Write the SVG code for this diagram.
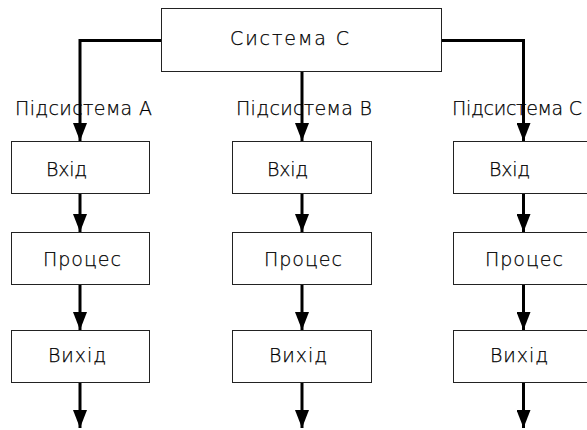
<svg xmlns="http://www.w3.org/2000/svg" width="587" height="430" viewBox="0 0 587 430">
  <style>
    .box { fill: #ffffff; stroke: #222222; stroke-width: 1; }
    .lbl { font-family: "DejaVu Sans", "Liberation Sans", sans-serif; font-weight: 200; font-size: 19px; fill: #000000; stroke: #000000; stroke-width: 0.25; }
    .wire { fill: none; stroke: #000000; stroke-width: 3; }
  </style>
  <defs>
    <marker id="arrow" viewBox="0 0 18 14" refX="18" refY="7" markerWidth="18" markerHeight="14" markerUnits="userSpaceOnUse" orient="auto">
      <path d="M0,0 L18,7 L0,14 z" fill="#000000"/>
    </marker>
  </defs>
  <rect width="587" height="430" fill="#ffffff"/>

  <!-- connectors -->
  <g id="connectors" class="wire" marker-end="url(#arrow)">
    <path d="M161,40.5 H80 V141"/>
    <path d="M302,71 V141"/>
    <path d="M442,40.5 H523.5 V141"/>
    <path d="M80,193 V232"/>
    <path d="M80,284 V330"/>
    <path d="M80,382 V428"/>
    <path d="M302,193 V232"/>
    <path d="M302,284 V330"/>
    <path d="M302,382 V428"/>
    <path d="M523.5,193 V232"/>
    <path d="M523.5,284 V330"/>
    <path d="M523.5,382 V428"/>
  </g>

  <!-- top-level system -->
  <g id="system">
    <rect class="box" x="161.5" y="8.5" width="280" height="63"/>
    <text class="lbl" x="230" y="45" textLength="119" lengthAdjust="spacing">Система C</text>
  </g>

  <!-- subsystem captions -->
  <g id="captions">
    <text class="lbl" x="15" y="115" textLength="137" lengthAdjust="spacing">Підсистема A</text>
    <text class="lbl" x="236" y="115" textLength="136" lengthAdjust="spacing">Підсистема B</text>
    <text class="lbl" x="452" y="115" textLength="130" lengthAdjust="spacing">Підсистема C</text>
  </g>

  <!-- subsystem A -->
  <g id="a-input">
    <rect class="box" x="11.5" y="141.5" width="138" height="52"/>
    <text class="lbl" x="46" y="176" textLength="41" lengthAdjust="spacing">Вхід</text>
  </g>
  <g id="a-process">
    <rect class="box" x="11.5" y="232.5" width="138" height="52"/>
    <text class="lbl" x="43" y="266" textLength="78" lengthAdjust="spacing">Процес</text>
  </g>
  <g id="a-output">
    <rect class="box" x="11.5" y="330.5" width="138" height="52"/>
    <text class="lbl" x="48" y="362" textLength="58" lengthAdjust="spacing">Вихід</text>
  </g>

  <!-- subsystem B -->
  <g id="b-input">
    <rect class="box" x="232.5" y="141.5" width="139" height="52"/>
    <text class="lbl" x="267" y="176" textLength="41" lengthAdjust="spacing">Вхід</text>
  </g>
  <g id="b-process">
    <rect class="box" x="232.5" y="232.5" width="139" height="52"/>
    <text class="lbl" x="264" y="266" textLength="78" lengthAdjust="spacing">Процес</text>
  </g>
  <g id="b-output">
    <rect class="box" x="232.5" y="330.5" width="139" height="52"/>
    <text class="lbl" x="269" y="362" textLength="58" lengthAdjust="spacing">Вихід</text>
  </g>

  <!-- subsystem C -->
  <g id="c-input">
    <rect class="box" x="453.5" y="141.5" width="140" height="52"/>
    <text class="lbl" x="489" y="176" textLength="41" lengthAdjust="spacing">Вхід</text>
  </g>
  <g id="c-process">
    <rect class="box" x="453.5" y="232.5" width="140" height="52"/>
    <text class="lbl" x="485" y="266" textLength="78" lengthAdjust="spacing">Процес</text>
  </g>
  <g id="c-output">
    <rect class="box" x="453.5" y="330.5" width="140" height="52"/>
    <text class="lbl" x="490" y="362" textLength="58" lengthAdjust="spacing">Вихід</text>
  </g>
</svg>
